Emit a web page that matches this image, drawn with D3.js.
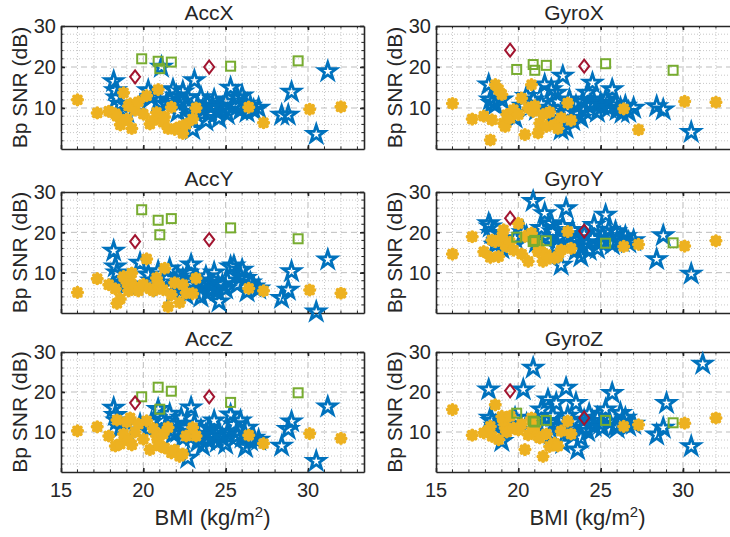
<!DOCTYPE html>
<html>
<head>
<meta charset="utf-8">
<script src="https://cdn.jsdelivr.net/npm/d3@7"></script>
<style>
  body { margin: 0; background: #fff; }
  text { font-family: "Liberation Sans", Arial, Helvetica, sans-serif; fill: #262626; }
</style>
</head>
<body>
<div class="snr-plot"></div>
<script>
const xTicks = [15, 20, 25, 30];
const yTicks = [10, 20, 30];

// subjects, BMI per marker group (same in every panel)
const starBMI = [18.2,18.3,18.4,18.6,19.0,19.8,20.3,20.5,20.9,21.1,21.4,21.6,21.8,22.0,22.1,22.3,22.4,22.6,22.7,22.9,
  23.0,23.1,23.3,23.5,23.6,23.8,23.9,24.0,24.2,24.3,24.5,24.6,24.8,25.0,25.1,25.3,25.5,25.7,25.9,26.0,
  26.2,26.3,26.5,26.7,27.0,28.4,28.8,29.0,30.5,31.2];
const dotBMI = [16.0,17.2,17.9,18.3,18.4,18.6,18.8,19.0,19.1,19.2,19.3,19.5,19.7,20.0,20.2,20.4,20.6,20.8,20.9,21.0,
  21.2,21.3,21.5,21.7,21.9,22.2,22.4,22.6,23.0,23.2,26.4,27.3,30.1,32.0];
const squareBMI = [19.9, 20.9, 21.0, 21.7, 25.3, 29.4];
const diamondBMI = [19.5, 24.0];

// Bp SNR (dB)
const accXStar = [16.5,14.3,12.5,11.0,8.9,10.6,14.3,12.6,11.4,20.0, 11.0,12.0,14.5,13.0,9.0,11.5,14.0,10.0,12.5,8.0,
  4.8,16.7,10.5,12.6,9.5,6.9,11.0,8.5,10.5,12.0, 9.0,7.5,10.0,11.5,8.5,14.9,10.5,12.6,9.5,13.0,
  11.0,9.0,10.5,9.5,10.0,8.3,8.3,13.9,3.6,18.9];
const accYStar = [15.4,11.5,10.0,7.5,7.0,12.4,9.5,8.0,10.3,6.5, 8.5,11.0,5.0,7.5,9.0,6.0,8.5,4.5,10.0,12.0,
  7.0,5.5,8.0,4.0,6.5,9.0,5.0,7.5,6.0,10.0, 5.5,2.8,7.0,6.0,8.0,11.5,11.7,7.0,9.0,10.7,
  8.6,5.3,7.5,6.5,6.0,3.7,5.7,10.3,0.3,13.2];
const accZStar = [16.0,14.2,12.8,11.0,10.3,11.9,10.7,12.5,15.7,13.0, 11.0,14.5,9.5,12.0,10.0,13.5,8.5,11.0,3.5,16.1,
  9.0,12.0,7.5,10.5,6.5,9.5,8.0,11.0,9.0,12.8, 7.5,10.0,8.5,7.0,9.5,14.3,11.9,9.0,12.8,8.6,
  6.2,11.0,7.9,8.5,8.0,6.5,10.7,12.6,2.7,16.3];
const gyroXStar = [15.7,12.0,11.2,10.8,12.0,7.6,10.5,12.9,12.0,9.5, 11.0,15.7,10.0,14.5,8.5,13.7,11.5,4.7,17.8,5.1,
  9.0,12.0,7.0,10.5,8.5,7.6,11.5,9.5,13.7,10.5, 16.1,11.2,9.0,11.2,10.5,12.0,10.0,14.5,11.0,9.5,
  10.0,8.8,10.5,9.0,10.0,10.4,9.6,null,4.1,null];
const gyroYStar = [22.2,21.4,19.8,16.9,16.0,18.5,20.0,19.0,27.7,17.5, 21.0,24.7,18.5,22.2,20.2,16.5,18.5,11.9,21.5,25.9,
  19.0,17.0,20.5,15.5,18.0,14.0,16.5,19.5,17.3,15.6, 18.5,21.8,16.0,17.5,19.0,24.3,20.6,17.0,20.2,18.0,
  18.5,17.7,19.0,17.5,18.0,13.3,19.2,null,9.7,null];
const gyroZStar = [20.6,13.5,12.7,11.5,7.7,13.5,20.6,12.0,26.0,13.0, 15.6,11.0,18.1,9.5,14.0,17.2,11.5,12.7,7.2,21.0,
  14.0,10.0,12.5,17.2,5.6,8.5,11.0,13.0,10.2,14.5, 12.7,11.5,13.5,12.0,11.0,15.6,12.5,19.7,11.5,11.0,
  14.7,12.5,13.5,11.5,12.0,9.3,11.0,17.2,6.4,27.0];

const accXDot = [12.0,8.8,9.2,8.6,8.0,5.9,13.7,7.3,10.5,11.0, 5.0,9.5,11.5,8.5,13.0,6.1,7.0,8.9,14.5,7.5,
  6.5,7.8,5.0,10.2,4.8,5.4,3.8,6.0,7.3,10.0, 10.2,6.4,9.7,10.3];
const accYDot = [5.1,8.5,7.0,6.0,2.4,3.5,9.0,7.5,5.5,8.0, 9.9,6.5,5.5,7.1,13.4,6.0,5.5,8.7,7.0,6.5,
  5.8,11.1,1.6,4.5,7.5,2.6,7.0,5.0,4.8,8.6, 6.1,5.5,5.7,4.9];
const accZDot = [10.3,11.3,9.0,6.5,13.0,7.0,9.5,12.5,8.0,13.5, 6.8,10.0,12.0,8.2,12.8,5.6,10.9,9.0,7.5,6.5,
  9.5,6.0,11.1,4.8,5.5,3.9,4.5,9.0,11.1,9.0, 9.2,7.1,9.6,8.4];
const gyroXDot = [11.1,7.3,8.0,2.2,7.1,15.7,14.5,13.3,6.3,5.5, 8.4,7.5,9.6,8.4,12.4,3.5,10.0,15.7,9.2,10.5,
  3.9,6.3,8.4,5.5,9.0,5.9,5.0,7.6,11.2,7.0, 9.8,4.7,11.6,11.4];
const gyroYDot = [14.6,18.9,15.2,13.8,18.1,17.7,14.0,18.9,20.6,16.9, 16.5,17.5,15.6,22.2,14.6,19.0,12.8,19.8,18.0,17.7,
  15.2,16.0,12.8,14.5,13.6,13.6,14.0,15.6,20.2,16.0, 16.5,17.0,16.6,17.9];
const gyroZDot = [15.6,9.2,9.8,11.4,8.9,16.8,8.1,13.9,12.7,11.0, 10.0,14.0,11.0,10.5,12.0,5.6,9.3,13.5,11.0,11.4,
  9.0,8.5,3.9,9.5,6.4,7.2,6.5,10.2,12.7,9.5, 11.4,11.8,12.2,13.5];

const accXSquare = [22.0, 21.4, 19.6, 21.2, 20.2, 21.5];
const accYSquare = [25.6, 23.0, 19.4, 23.4, 21.1, 18.4];
const accZSquare = [18.8, 21.2, 15.7, 20.2, 17.4, 19.8];
const gyroXSquare = [19.4, 20.6, 19.2, 20.4, 20.8, 19.2];
const gyroYSquare = [18.8, 17.7, 18.0, 17.9, 17.3, 17.4];
const gyroZSquare = [14.7, 12.7, 12.5, 12.9, 12.9, 12.3];

const accXDiamond = [17.6, 20.0];
const accYDiamond = [17.7, 18.2];
const accZDiamond = [17.3, 18.8];
const gyroXDiamond = [24.1, 20.2];
const gyroYDiamond = [23.5, 20.3];
const gyroZDiamond = [20.3, 13.5];

const panels = [
  {name: 'AccX', row: 0, col: 0, star: accXStar, dot: accXDot, square: accXSquare, diamond: accXDiamond},
  {name: 'GyroX', row: 0, col: 1, star: gyroXStar, dot: gyroXDot, square: gyroXSquare, diamond: gyroXDiamond},
  {name: 'AccY', row: 1, col: 0, star: accYStar, dot: accYDot, square: accYSquare, diamond: accYDiamond},
  {name: 'GyroY', row: 1, col: 1, star: gyroYStar, dot: gyroYDot, square: gyroYSquare, diamond: gyroYDiamond},
  {name: 'AccZ', row: 2, col: 0, star: accZStar, dot: accZDot, square: accZSquare, diamond: accZDiamond},
  {name: 'GyroZ', row: 2, col: 1, star: gyroZStar, dot: gyroZDot, square: gyroZSquare, diamond: gyroZDiamond}
];

const colors = {star: '#0072BD', dot: '#EDB120', square: '#77AC30', diamond: '#A2142F'};

const outerWidth = 730;
const outerHeight = 537;
const colLeft = [61, 436];
const titleX = [209, 574];
const rowTop = [26, 192, 352];
const rowHeight = [123, 121, 120];
const panelWidth = 303;

const svg = d3.select('.snr-plot')
  .append('svg')
  .attr('width', outerWidth)
  .attr('height', outerHeight);

const starPath = d3.symbol(d3.symbolStar, 92)();
const diamondPath = 'M0,-6.5L5,0L0,6.5L-5,0Z';
const dotPath = 'M-4.6,0L4.6,0M0,-4.6L0,4.6M-3.3,-3.3L3.3,3.3M-3.3,3.3L3.3,-3.3';

panels.forEach(p => makePanel(p));

function pairs(xs, ys) {
  return xs.map((x, i) => ({x: x, y: ys[i]})).filter(d => d.y != null);
}

function makePanel(p) {
  const x0 = colLeft[p.col];
  const top = rowTop[p.row];
  const h = rowHeight[p.row];

  const xScale = d3.scaleLinear().domain([15, 33.4]).range([x0, x0 + panelWidth]);
  const yScale = d3.scaleLinear().domain([0, 30]).range([top + h, top]);

  const g = svg.append('g').attr('class', 'panel');

  // minor grid
  g.selectAll('.minor-x')
    .data(d3.range(16, 34, 1).filter(v => v % 5 != 0))
    .join('line')
    .attr('x1', d => xScale(d)).attr('x2', d => xScale(d))
    .attr('y1', top).attr('y2', top + h)
    .attr('stroke', '#c8c8c8').attr('stroke-width', 1)
    .attr('stroke-dasharray', '1,2');
  g.selectAll('.minor-y')
    .data(d3.range(2, 30, 2).filter(v => v % 10 != 0))
    .join('line')
    .attr('x1', x0).attr('x2', x0 + panelWidth)
    .attr('y1', d => yScale(d)).attr('y2', d => yScale(d))
    .attr('stroke', '#c8c8c8').attr('stroke-width', 1)
    .attr('stroke-dasharray', '1,2');

  // major grid
  g.selectAll('.major-x')
    .data(xTicks.slice(1))
    .join('line')
    .attr('x1', d => xScale(d)).attr('x2', d => xScale(d))
    .attr('y1', top).attr('y2', top + h)
    .attr('stroke', '#bdbdbd').attr('stroke-width', 1)
    .attr('stroke-dasharray', '6,4');
  g.selectAll('.major-y')
    .data(yTicks.slice(0, 2))
    .join('line')
    .attr('x1', x0).attr('x2', x0 + panelWidth)
    .attr('y1', d => yScale(d)).attr('y2', d => yScale(d))
    .attr('stroke', '#bdbdbd').attr('stroke-width', 1)
    .attr('stroke-dasharray', '6,4');

  // axes with inward ticks on all sides
  const axes = [
    d3.axisBottom(xScale).tickValues(xTicks).tickSizeInner(-4).tickSizeOuter(0).tickFormat(''),
    d3.axisTop(xScale).tickValues(xTicks).tickSizeInner(-4).tickSizeOuter(0).tickFormat(''),
    d3.axisLeft(yScale).tickValues(yTicks).tickSizeInner(-4).tickSizeOuter(0).tickFormat(''),
    d3.axisRight(yScale).tickValues(yTicks).tickSizeInner(-4).tickSizeOuter(0).tickFormat('')
  ];
  const shifts = [`translate(0,${top + h})`, `translate(0,${top})`, `translate(${x0},0)`, `translate(${x0 + panelWidth},0)`];
  axes.forEach((ax, i) => {
    g.append('g')
      .attr('transform', shifts[i])
      .call(ax)
      .call(s => s.selectAll('path, line').attr('stroke', '#262626').attr('stroke-width', 1.6));
  });
  // minor ticks
  const minorX = d3.range(16, 34, 1);
  const minorY = d3.range(2, 30, 2);
  [top, top + h].forEach((yy, k) => {
    g.selectAll(null).data(minorX).join('line')
      .attr('x1', d => xScale(d)).attr('x2', d => xScale(d))
      .attr('y1', yy).attr('y2', k == 0 ? yy + 2.5 : yy - 2.5)
      .attr('stroke', '#262626').attr('stroke-width', 1);
  });
  [x0, x0 + panelWidth].forEach((xx, k) => {
    g.selectAll(null).data(minorY).join('line')
      .attr('y1', d => yScale(d)).attr('y2', d => yScale(d))
      .attr('x1', xx).attr('x2', k == 0 ? xx + 2.5 : xx - 2.5)
      .attr('stroke', '#262626').attr('stroke-width', 1);
  });

  // y tick labels
  g.selectAll('.ytl')
    .data(yTicks)
    .join('text')
    .attr('x', x0 - 5)
    .attr('y', d => yScale(d))
    .attr('dy', '0.36em')
    .attr('text-anchor', 'end')
    .attr('font-size', 20)
    .text(d => d);

  // x tick labels, bottom row only
  if (p.row == 2) {
    g.selectAll('.xtl')
      .data(xTicks)
      .join('text')
      .attr('x', d => xScale(d))
      .attr('y', top + h + 24.5)
      .attr('text-anchor', 'middle')
      .attr('font-size', 20)
      .text(d => d);

    const xl = g.append('text')
      .attr('x', x0 + panelWidth / 2)
      .attr('y', top + h + 53)
      .attr('text-anchor', 'middle')
      .attr('font-size', 22);
    xl.append('tspan').text('BMI (kg/m');
    xl.append('tspan').attr('font-size', 15).attr('dy', -8).text('2');
    xl.append('tspan').attr('dy', 8).text(')');
  }

  // y label
  g.append('text')
    .attr('transform', `translate(${x0 - 34},${top + h / 2}) rotate(-90)`)
    .attr('text-anchor', 'middle')
    .attr('font-size', 21)
    .text('Bp SNR (dB)');

  // title
  g.append('text')
    .attr('x', titleX[p.col])
    .attr('y', top - 6)
    .attr('text-anchor', 'middle')
    .attr('font-size', 21)
    .text(p.name);

  // markers
  g.selectAll('.star')
    .data(pairs(starBMI, p.star))
    .join('path')
    .attr('d', starPath)
    .attr('transform', d => `translate(${xScale(d.x)},${yScale(d.y)})`)
    .attr('fill', 'none')
    .attr('stroke', colors.star)
    .attr('stroke-width', 2.8);

  g.selectAll('.dot')
    .data(pairs(dotBMI, p.dot))
    .join('path')
    .attr('d', dotPath)
    .attr('transform', d => `translate(${xScale(d.x)},${yScale(d.y)})`)
    .attr('fill', 'none')
    .attr('stroke', colors.dot)
    .attr('stroke-width', 4)
    .attr('stroke-linecap', 'round');

  g.selectAll('.square')
    .data(pairs(squareBMI, p.square))
    .join('rect')
    .attr('x', d => xScale(d.x) - 4.5)
    .attr('y', d => yScale(d.y) - 4.5)
    .attr('width', 9)
    .attr('height', 9)
    .attr('fill', 'none')
    .attr('stroke', colors.square)
    .attr('stroke-width', 2);

  g.selectAll('.diamond')
    .data(pairs(diamondBMI, p.diamond))
    .join('path')
    .attr('d', diamondPath)
    .attr('transform', d => `translate(${xScale(d.x)},${yScale(d.y)})`)
    .attr('fill', 'none')
    .attr('stroke', colors.diamond)
    .attr('stroke-width', 2);
}
</script>
</body>
</html>
